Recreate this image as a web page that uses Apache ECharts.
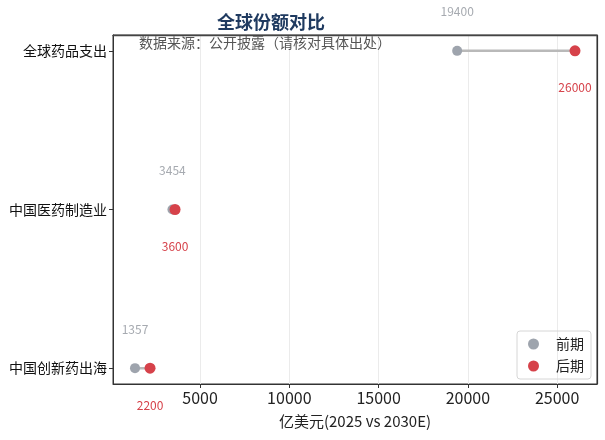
<!DOCTYPE html>
<html>
<head>
<meta charset="utf-8">
<script src="https://cdn.jsdelivr.net/npm/echarts@6/dist/echarts.min.js"></script>
<style>
  html, body { margin: 0; padding: 0; background: #fff; }
  #main { width: 605px; height: 440px; }
</style>
</head>
<body>
<div id="main"></div>
<script>
var categories = ['全球药品支出', '中国医药制造业', '中国创新药出海'];
var before = [19400, 3454, 1357];
var after = [26000, 3600, 2200];
var xTicks = [5000, 10000, 15000, 20000, 25000];

var chart = echarts.init(document.getElementById('main'));
var font = '"Noto Sans CJK SC", "Noto Sans", sans-serif';

var lineSeries = categories.map(function (c, i) {
    return {
        type: 'line',
        data: [[before[i], i], [after[i], i]],
        symbol: 'none',
        silent: true,
        lineStyle: { color: '#b9b9b9', width: 2.5 },
        z: 1
    };
});

var option = {
    textStyle: { fontFamily: font },
    title: [
        {
            text: '全球份额对比',
            left: 212, top: 8,
            textStyle: { fontSize: 18, fontWeight: 'bold', color: '#1f3a60', fontFamily: font }
        },
        {
            text: '数据来源：公开披露（请核对具体出处）',
            left: 134, top: 31,
            textStyle: { fontSize: 14, fontWeight: 'normal', color: '#555', fontFamily: font }
        }
    ],
    legend: {
        data: ['前期', '后期'],
        orient: 'vertical',
        right: 14, bottom: 61,
        icon: 'circle',
        itemWidth: 11, itemHeight: 11,
        itemGap: 8,
        padding: [6, 7, 6, 11],
        borderColor: '#d6d6d6', borderWidth: 1, borderRadius: 3,
        textStyle: { fontSize: 14, color: '#222', padding: [0, 0, 0, 12] }
    },
    grid: {
        left: 113, right: 8, top: 35, bottom: 56,
        show: true, borderColor: '#333', borderWidth: 1
    },
    xAxis: [
        {
            type: 'value',
            min: 125, max: 27232,
            name: '亿美元(2025 vs 2030E)',
            nameLocation: 'middle', nameGap: 30,
            nameTextStyle: { fontSize: 15, color: '#222' },
            axisLine: { show: true, onZero: false, lineStyle: { color: '#333' } },
            axisTick: { show: true, length: 4, lineStyle: { color: '#333' }, customValues: xTicks },
            axisLabel: {
                fontSize: 16, color: '#222', margin: 6, customValues: xTicks,
                formatter: function (v) { return String(v); }
            },
            splitLine: { show: true, lineStyle: { color: '#ebebeb' } }
        },
        {
            // top frame edge
            type: 'value',
            position: 'top',
            min: 125, max: 27232,
            axisLine: { show: true, onZero: false, lineStyle: { color: '#444', width: 1.4 } },
            axisTick: { show: false },
            axisLabel: { show: false },
            splitLine: { show: false }
        }
    ],
    yAxis: [
        {
            type: 'value',
            inverse: true,
            min: -0.1, max: 2.1,
            axisLine: { show: true, onZero: false, lineStyle: { color: '#333' } },
            axisTick: { show: true, length: 4, lineStyle: { color: '#333' }, customValues: [0, 1, 2] },
            axisLabel: {
                fontSize: 14, color: '#111', margin: 6,
                customValues: [0, 1, 2],
                formatter: function (v) { return categories[Math.round(v)]; }
            },
            splitLine: { show: false }
        },
        {
            // right frame edge
            type: 'value',
            position: 'right',
            inverse: true,
            min: -0.1, max: 2.1,
            axisLine: { show: true, onZero: false, lineStyle: { color: '#333', width: 1.2 } },
            axisTick: { show: false },
            axisLabel: { show: false },
            splitLine: { show: false }
        }
    ],
    series: lineSeries.concat([
        {
            name: '前期',
            type: 'scatter',
            symbolSize: 10,
            itemStyle: { color: '#9ea4ad', opacity: 1 },
            data: before.map(function (v, i) { return [v, i]; }),
            label: {
                show: true, position: 'inside', offset: [0, -39],
                color: '#a6aab0', fontSize: 12,
                formatter: function (p) { return String(p.value[0]); }
            },
            z: 2
        },
        {
            name: '后期',
            type: 'scatter',
            symbolSize: 11,
            itemStyle: { color: '#d6424a', opacity: 1 },
            data: after.map(function (v, i) { return [v, i]; }),
            label: {
                show: true, position: 'inside', offset: [0, 37],
                color: '#d6424a', fontSize: 12,
                formatter: function (p) { return String(p.value[0]); }
            },
            z: 3
        }
    ])
};

chart.setOption(option);
</script>
</body>
</html>
